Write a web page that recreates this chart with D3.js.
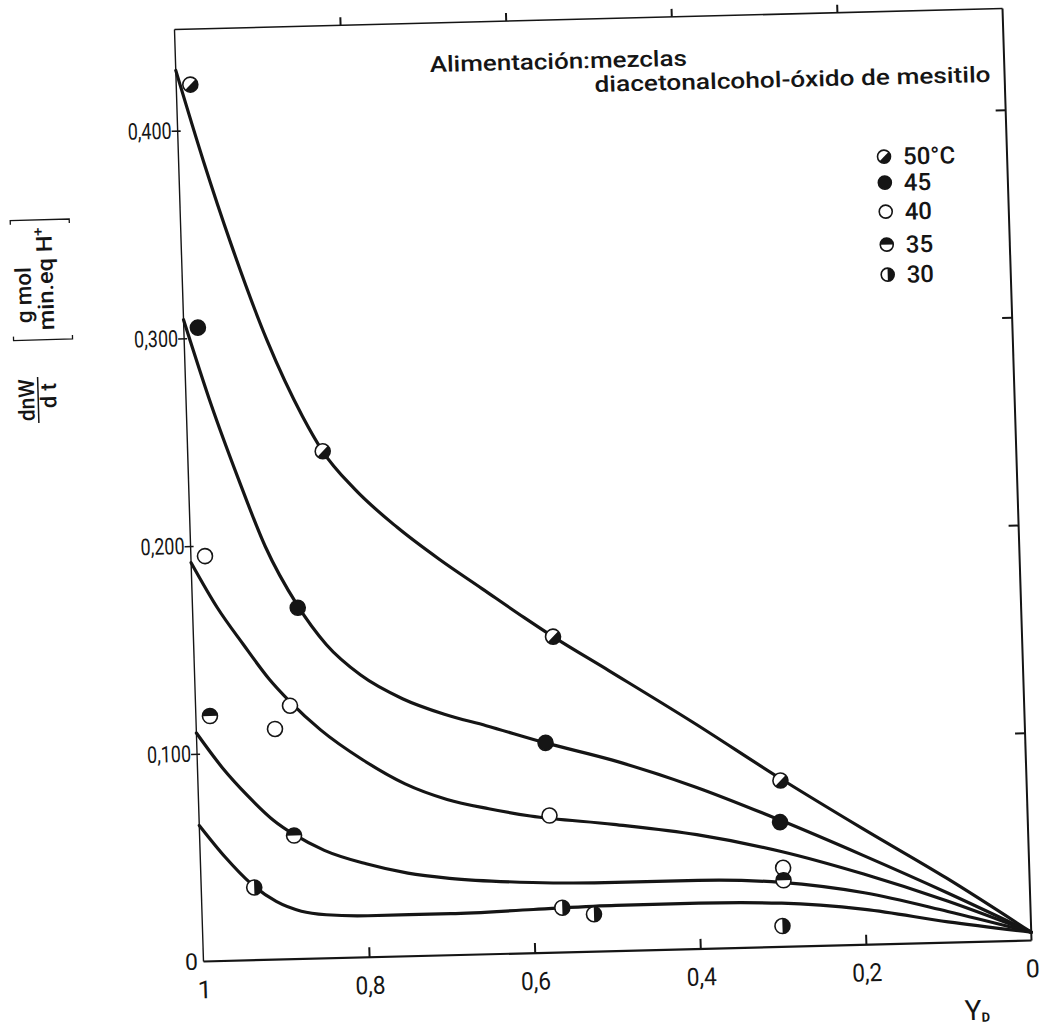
<!DOCTYPE html>
<html><head><meta charset="utf-8">
<script src="https://cdn.jsdelivr.net/npm/d3@7"></script>
<style>
html,body{margin:0;padding:0;background:#fff;}
svg{display:block;}
text{font-family:Roboto,"DejaVu Sans",sans-serif;fill:#151515;}
</style></head><body>
<svg id="chart" width="1043" height="1030"></svg>
<script>
// ---------- data ----------
const xTicks = [1, 0.8, 0.6, 0.4, 0.2, 0];
const xTickLabels = ["1", "0,8", "0,6", "0,4", "0,2", "0"];
const yTicks = [0.1, 0.2, 0.3, 0.4];
const yTickLabels = ["0,100", "0,200", "0,300", "0,400"];
const seriesNames = ["50°C", "45", "40", "35", "30"];
const seriesMarkers = ["diag", "full", "open", "top", "right"];

// measured points
const pts50X = [0.983, 0.837, 0.566, 0.297];
const pts50Y = [0.422, 0.244, 0.152, 0.080];
const pts45X = [0.983, 0.873, 0.579, 0.299];
const pts45Y = [0.305, 0.169, 0.101, 0.060];
const pts40X = [0.983, 0.886, 0.905, 0.577, 0.297];
const pts40Y = [0.195, 0.122, 0.111, 0.066, 0.038];
const pts35X = [0.983, 0.886, 0.297];
const pts35Y = [0.118, 0.0595, 0.032];
const pts30X = [0.936, 0.565, 0.527, 0.300];
const pts30Y = [0.035, 0.0215, 0.018, 0.010];

// fitted curves
const crv50X = [1, 0.97, 0.94, 0.9, 0.86, 0.837, 0.8, 0.75, 0.7, 0.65, 0.6, 0.566, 0.5, 0.4, 0.297, 0.2, 0.1, 0];
const crv50Y = [0.429, 0.385, 0.345, 0.298, 0.261, 0.244, 0.2255, 0.2065, 0.1905, 0.176, 0.1615, 0.152, 0.135, 0.109, 0.081, 0.056, 0.031, 0.004];
const crv45X = [1, 0.97, 0.94, 0.91, 0.873, 0.84, 0.8, 0.75, 0.7, 0.65, 0.579, 0.5, 0.4, 0.299, 0.2, 0.1, 0];
const crv45Y = [0.309, 0.268, 0.232, 0.199, 0.170, 0.151, 0.136, 0.124, 0.116, 0.110, 0.101, 0.092, 0.078, 0.061, 0.043, 0.024, 0.004];
const crv40X = [1, 0.97, 0.94, 0.91, 0.886, 0.85, 0.8, 0.75, 0.7, 0.65, 0.6, 0.5, 0.4, 0.3, 0.2, 0.1, 0];
const crv40Y = [0.192, 0.17, 0.152, 0.135, 0.124, 0.11, 0.095, 0.083, 0.075, 0.07, 0.066, 0.061, 0.055, 0.046, 0.034, 0.02, 0.004];
const crv35X = [1, 0.97, 0.94, 0.91, 0.886, 0.85, 0.8, 0.75, 0.7, 0.6, 0.5, 0.4, 0.3, 0.2, 0.1, 0];
const crv35Y = [0.110, 0.093, 0.079, 0.067, 0.060, 0.052, 0.045, 0.040, 0.037, 0.034, 0.033, 0.033, 0.031, 0.025, 0.015, 0.004];
const crv30X = [1, 0.97, 0.94, 0.91, 0.88, 0.85, 0.8, 0.7, 0.6, 0.5, 0.4, 0.3, 0.2, 0.1, 0];
const crv30Y = [0.0655, 0.050, 0.037, 0.028, 0.023, 0.021, 0.020, 0.020, 0.021, 0.022, 0.022, 0.021, 0.017, 0.010, 0.004];

const titleLine1 = "Alimentación:mezclas";
const titleLine2 = "diacetonalcohol-óxido de mesitilo";

// ---------- build ----------
const pointsX = [pts50X, pts45X, pts40X, pts35X, pts30X];
const pointsY = [pts50Y, pts45Y, pts40Y, pts35Y, pts30Y];
const curvesX = [crv50X, crv45X, crv40X, crv35X, crv30X];
const curvesY = [crv50Y, crv45Y, crv40Y, crv35Y, crv30Y];

const svg = d3.select("#chart");
const W = 828, H = 932;
const ink = "#151515";

// the photographed sheet is slightly rotated
const g = svg.append("g").attr("transform", "matrix(1,-0.02536,0.03112,1,174.5,29.5)");

const x = d3.scaleLinear().domain([1, 0]).range([0, W]);
const y = d3.scaleLinear().domain([0, 0.4487]).range([H, 0]);

// frame
g.append("line").attr("x1", 0).attr("y1", 0).attr("x2", W).attr("y2", 0).attr("stroke", ink).attr("stroke-width", 1.6);
g.append("line").attr("x1", W).attr("y1", 0).attr("x2", W).attr("y2", H).attr("stroke", ink).attr("stroke-width", 2);
g.append("line").attr("x1", 0).attr("y1", H).attr("x2", W).attr("y2", H).attr("stroke", ink).attr("stroke-width", 2.2);
g.append("line").attr("x1", 0).attr("y1", 0).attr("x2", 0).attr("y2", H).attr("stroke", ink).attr("stroke-width", 1.4);

// bottom axis (ticks inward, labels below)
const axB = g.append("g").attr("transform", `translate(0,${H})`)
  .call(d3.axisBottom(x).tickValues(xTicks).tickSize(-10).tickPadding(19)
    .tickFormat((d, i) => xTickLabels[i]));
axB.select(".domain").remove();
axB.selectAll(".tick line").attr("stroke", ink).attr("stroke-width", 2)
  .attr("display", d => (d === 1 || d === 0) ? "none" : null);
axB.selectAll(".tick text").attr("font-size", 25).attr("fill", ink)
  .attr("font-family", null)
  .each(function (d, i) {
    if (xTickLabels[i].length > 1) d3.select(this).attr("textLength", 30).attr("lengthAdjust", "spacingAndGlyphs");
  });

// top axis (ticks outward)
const axT = g.append("g")
  .call(d3.axisTop(x).tickValues(xTicks.filter(d => d !== 1 && d !== 0)).tickSize(8).tickFormat(""));
axT.select(".domain").remove();
axT.selectAll(".tick line").attr("stroke", ink).attr("stroke-width", 2);

// left axis (ticks crossing, labels)
const axL = g.append("g")
  .call(d3.axisLeft(y).tickValues(yTicks).tickSize(6).tickPadding(0)
    .tickFormat((d, i) => yTickLabels[i]));
axL.select(".domain").remove();
axL.selectAll(".tick line").attr("stroke", ink).attr("stroke-width", 1.6).attr("x1", 3);
axL.selectAll(".tick text").attr("font-size", 23).attr("fill", ink).attr("font-family", null)
  .attr("textLength", 44).attr("lengthAdjust", "spacingAndGlyphs");
g.append("text").attr("x", -12).attr("y", H + 8).attr("text-anchor", "middle")
  .attr("font-size", 23).text("0");

// right axis (ticks inward)
const axR = g.append("g").attr("transform", `translate(${W},0)`)
  .call(d3.axisLeft(y).tickValues(yTicks).tickSize(10).tickFormat(""));
axR.select(".domain").remove();
axR.selectAll(".tick line").attr("stroke", ink).attr("stroke-width", 2);

// axis name Y_D
const yd = g.append("text").attr("x", 759).attr("y", 1010).attr("font-size", 28);
yd.append("tspan").text("Y");
yd.append("tspan").attr("font-size", 13).attr("dy", 2).attr("font-weight", "bold").text("D");

// curves
const line = d3.line().x(d => x(d[0])).y(d => y(d[1])).curve(d3.curveMonotoneX);
curvesX.forEach((cx, i) => {
  const data = cx.map((v, j) => [v, curvesY[i][j]]);
  g.append("path").datum(data).attr("d", line)
    .attr("fill", "none").attr("stroke", ink).attr("stroke-width", 3.2)
    .attr("stroke-linejoin", "round").attr("stroke-linecap", "round");
});

// markers
function drawMarker(sel, type, r) {
  const k = r * Math.SQRT1_2;
  sel.append("circle").attr("r", r).attr("fill", type === "full" ? ink : "#fff")
    .attr("stroke", ink).attr("stroke-width", 1.6);
  let p = null;
  if (type === "diag") p = `M${k},${-k}A${r},${r} 0 0 1 ${-k},${k}Z`;
  if (type === "top") p = `M${-r},0A${r},${r} 0 0 1 ${r},0Z`;
  if (type === "right") p = `M0,${-r}A${r},${r} 0 0 1 0,${r}Z`;
  if (p) sel.append("path").attr("d", p).attr("fill", ink);
}
pointsX.forEach((px, i) => {
  px.forEach((v, j) => {
    const m = g.append("g").attr("transform", `translate(${x(v)},${y(pointsY[i][j])})`);
    drawMarker(m, seriesMarkers[i], 7.5);
  });
});

// legend
const legendV = [145, 171, 200, 233, 263];
seriesNames.forEach((name, i) => {
  const m = g.append("g").attr("transform", `translate(705,${legendV[i]})`);
  drawMarker(m, seriesMarkers[i], 6.5);
  g.append("text").attr("x", 724).attr("y", legendV[i] + 8.5).attr("font-size", 24)
    .attr("font-weight", 500).text(name);
});

// title
g.append("text").attr("x", 254).attr("y", 49).attr("font-size", 22).attr("font-weight", 500)
  .attr("textLength", 257).attr("lengthAdjust", "spacingAndGlyphs").text(titleLine1);
g.append("text").attr("x", 418).attr("y", 73).attr("font-size", 22).attr("font-weight", 500)
  .attr("textLength", 396).attr("lengthAdjust", "spacingAndGlyphs").text(titleLine2);

// y axis title (rotated)
const yl = svg.append("g").attr("transform", "translate(36,320) rotate(-91.6)");
yl.append("text").attr("x", -80).attr("y", -4).attr("text-anchor", "middle").attr("font-size", 22).attr("font-weight", 500)
  .attr("textLength", 42).attr("lengthAdjust", "spacingAndGlyphs").text("dnW");
yl.append("line").attr("x1", -103).attr("x2", -57).attr("y1", 0).attr("y2", 0).attr("stroke", ink).attr("stroke-width", 1.5);
yl.append("text").attr("x", -76).attr("y", 18).attr("text-anchor", "middle").attr("font-size", 22).attr("font-weight", 500)
  .attr("xml:space", "preserve").text("d t");
yl.append("path").attr("d", "M-16,-23L-20,-23L-20,36L-16,36").attr("fill", "none").attr("stroke", ink).attr("stroke-width", 1.3);
yl.append("text").attr("x", 25).attr("y", -4).attr("text-anchor", "middle").attr("font-size", 22).attr("font-weight", 500)
  .attr("textLength", 56).attr("lengthAdjust", "spacingAndGlyphs").text("g mol");
const mt = yl.append("text").attr("x", 41).attr("y", 18).attr("text-anchor", "middle").attr("font-size", 22).attr("font-weight", 500)
  .attr("textLength", 103).attr("lengthAdjust", "spacingAndGlyphs");
mt.append("tspan").text("min.eq H");
mt.append("tspan").attr("font-size", 14).attr("dy", -9).text("+");
yl.append("path").attr("d", "M96,-23L100,-23L100,36L96,36").attr("fill", "none").attr("stroke", ink).attr("stroke-width", 1.3);
</script>
</body></html>
